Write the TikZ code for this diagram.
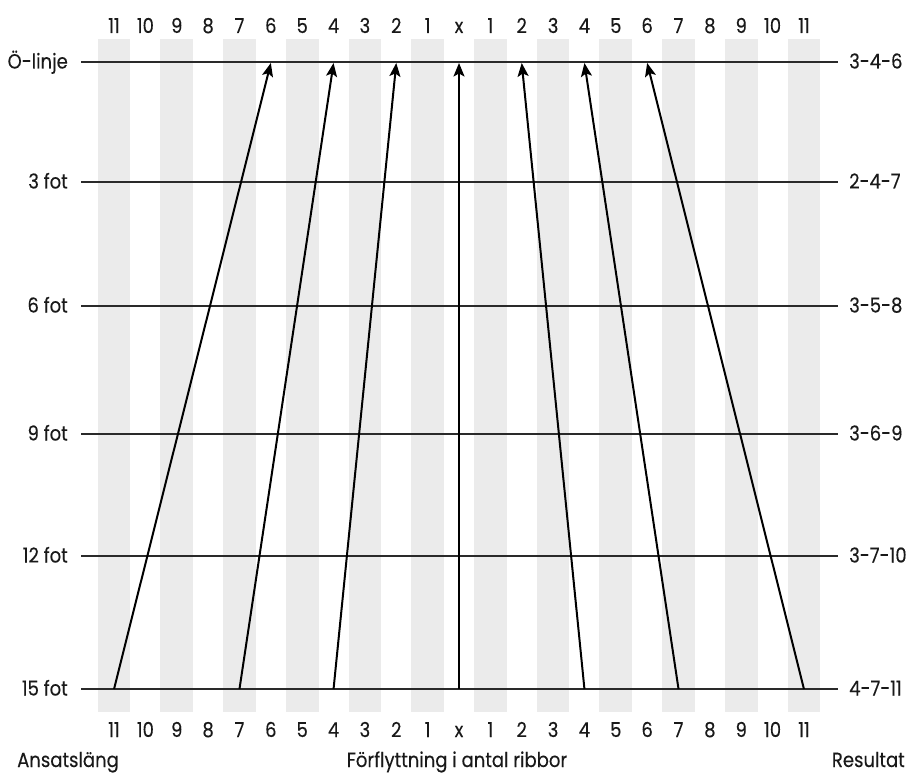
\documentclass[tikz,border=0pt]{standalone}
\usepackage{fontspec}
\setmainfont{Poppins}[FakeStretch=0.88,FakeBold=0.2]
\usetikzlibrary{arrows.meta}
\definecolor{stripe}{HTML}{EBEBEB}
\definecolor{rule}{HTML}{2A2A2A}
\begin{document}
\begin{tikzpicture}[x=1pt,y=-1pt,
  txt/.style={font=\fontsize{20.5}{20.5}\selectfont, inner sep=0pt, text=black!90},
  hline/.style={draw=rule, line width=1.7pt},
  arr/.style={draw=black, line width=2pt, -{Stealth[length=13.5pt,width=11pt,inset=3pt]}},
  stripebar/.style={fill=stripe, draw=none}]
\useasboundingbox (0,0) rectangle (911,773);
% stripes
\foreach \k in {-11,-9,...,11}
  \fill[stripebar] ({459+31.36*\k-16.4},39) rectangle ({459+31.36*\k+16.4},712);
% horizontal lines and labels
\foreach \i/\y/\l/\r in {1/62/Ö-linje/3-4-6, 2/182/3 fot/2-4-7, 3/306/6 fot/3-5-8, 4/434/9 fot/3-6-9, 5/556/12 fot/3-7-10, 6/689/15 fot/4-7-11}{
  \node[txt, anchor=base east] (ll\i) at (68,\y+6.5) {\l};
  \node[txt, anchor=base west] (rl\i) at (849,\y+6.5) {\r};
  \coordinate (a\i) at (81,\y);
  \coordinate (b\i) at (838,\y);
  \draw[hline] (a\i) -- (b\i);
}
% column numbers
\foreach \k/\t in {-11/11,-10/10,-9/9,-8/8,-7/7,-6/6,-5/5,-4/4,-3/3,-2/2,-1/1,0/x,1/1,2/2,3/3,4/4,5/5,6/6,7/7,8/8,9/9,10/10,11/11}{
  \node[txt, anchor=base] (tn\k) at ({459+31.36*\k},33) {\t};
  \node[txt, anchor=base] (bn\k) at ({459+31.36*\k},737) {\t};
  \coordinate (top\k) at ({459+31.36*\k},63);
  \coordinate (bot\k) at ({459+31.36*\k},689);
}
% arrows
\foreach \s/\e in {-11/-6,-7/-4,-4/-2,0/0,4/2,7/4,11/6}
  \draw[arr] (bot\s) -- (top\e);
% captions
\node[txt, anchor=base west] (c1) at (17,767) {Ansatsläng};
\node[txt, anchor=base] (c2) at (457,767) {Förflyttning i antal ribbor};
\node[txt, anchor=base east] (c3) at (905,767) {Resultat};
\end{tikzpicture}
\end{document}
